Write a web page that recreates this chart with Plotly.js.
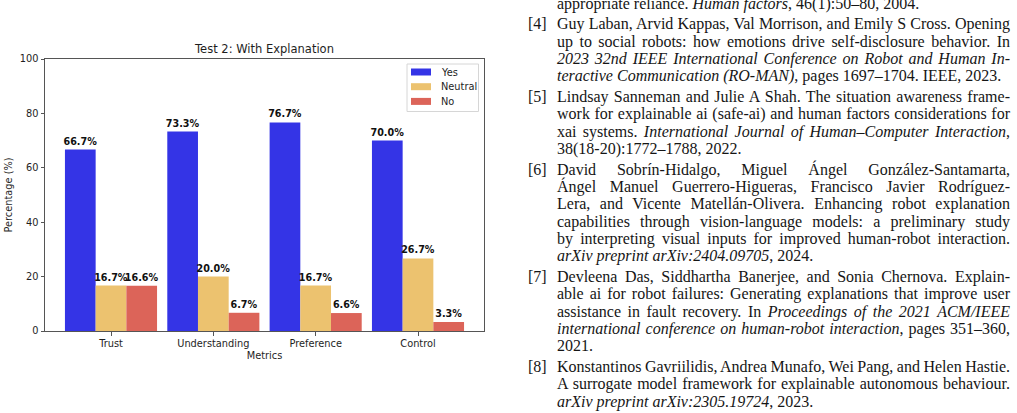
<!DOCTYPE html>
<html><head><meta charset="utf-8">
<script src="https://cdn.plot.ly/plotly-3.0.1.min.js"></script>
<style>
html,body{margin:0;padding:0;background:#fff;overflow:hidden;width:1017px;height:413px}
#chart{position:absolute;left:0;top:0;width:1017px;height:413px}
#refs{position:absolute;left:0;top:0;width:1017px;height:413px;pointer-events:none;font-family:"Liberation Serif","Times New Roman",serif;font-size:16px;color:#151515}
.ln{position:absolute;left:557px;white-space:nowrap;line-height:17px;height:17px}
.lb{position:absolute;left:528px;white-space:nowrap;line-height:17px;height:17px}
</style></head><body>
<div id="chart"></div><div id="refs"></div>
<script>
// ---- chart data ----
const metrics = ['Trust', 'Understanding', 'Preference', 'Control'];
const yesVals = [66.7, 73.3, 76.7, 70.0];
const neutralVals = [16.7, 20.0, 16.7, 26.7];
const noVals = [16.6, 6.7, 6.6, 3.3];
const seriesNames = ['Yes', 'Neutral', 'No'];
const seriesColors = ['#3434e6', '#ecc26f', '#dc6459'];
const yTicks = [0, 20, 40, 60, 80, 100];
const chartTitle = 'Test 2: With Explanation';
const xTitle = 'Metrics';
const yTitle = 'Percentage (%)';

// ---- reference text (page content on the right) ----
const refLines = [
  {lab: '', html: 'appropriate reliance. <i>Human factors</i>, 46(1):50–80, 2004.', j: false, first: false},
  {lab: '[4]', html: 'Guy Laban, Arvid Kappas, Val Morrison, and Emily S Cross. Opening', j: true},
  {lab: '', html: 'up to social robots: how emotions drive self-disclosure behavior. In', j: true},
  {lab: '', html: '<i>2023 32nd IEEE International Conference on Robot and Human In-</i>', j: true},
  {lab: '', html: '<i>teractive Communication (RO-MAN)</i>, pages 1697–1704. IEEE, 2023.', j: false},
  {lab: '[5]', html: 'Lindsay Sanneman and Julie A Shah. The situation awareness frame-', j: true},
  {lab: '', html: 'work for explainable ai (safe-ai) and human factors considerations for', j: true},
  {lab: '', html: 'xai systems. <i>International Journal of Human–Computer Interaction</i>,', j: true},
  {lab: '', html: '38(18-20):1772–1788, 2022.', j: false},
  {lab: '[6]', html: 'David Sobrín-Hidalgo, Miguel Ángel González-Santamarta,', j: true},
  {lab: '', html: 'Ángel Manuel Guerrero-Higueras, Francisco Javier Rodríguez-', j: true},
  {lab: '', html: 'Lera, and Vicente Matellán-Olivera. Enhancing robot explanation', j: true},
  {lab: '', html: 'capabilities through vision-language models: a preliminary study', j: true},
  {lab: '', html: 'by interpreting visual inputs for improved human-robot interaction.', j: true},
  {lab: '', html: '<i>arXiv preprint arXiv:2404.09705</i>, 2024.', j: false},
  {lab: '[7]', html: 'Devleena Das, Siddhartha Banerjee, and Sonia Chernova. Explain-', j: true},
  {lab: '', html: 'able ai for robot failures: Generating explanations that improve user', j: true},
  {lab: '', html: 'assistance in fault recovery. In <i>Proceedings of the 2021 ACM/IEEE</i>', j: true},
  {lab: '', html: '<i>international conference on human-robot interaction</i>, pages 351–360,', j: true},
  {lab: '', html: '2021.', j: false},
  {lab: '[8]', html: 'Konstantinos Gavriilidis, Andrea Munafo, Wei Pang, and Helen Hastie.', j: true},
  {lab: '', html: 'A surrogate model framework for explainable autonomous behaviour.', j: true},
  {lab: '', html: '<i>arXiv preprint arXiv:2305.19724</i>, 2023.', j: false}
];

// ---- layout geometry (pixels) ----
const W = 1017, H = 413;
const PL = 45, PR = 484, PT = 59, PB = 331;
const px2x = p => (p - PL) / (PR - PL);
const px2y = p => (PB - p) / (PB - PT);
const FONT = 'DejaVu Sans';
const TXT = '#1e1e1e';

const valuesBySeries = [yesVals, neutralVals, noVals];
const traces = valuesBySeries.map((vals, i) => ({
  type: 'bar',
  name: seriesNames[i],
  x: metrics,
  y: vals,
  marker: {color: seriesColors[i], line: {width: 0}},
  texttemplate: '%{y:.1f}%',
  textposition: 'outside',
  constraintext: 'none',
  cliponaxis: false,
  textfont: {family: FONT, size: 9.6, color: '#111', weight: 'bold'},
  showlegend: false,
  hoverinfo: 'skip'
}));

// custom matplotlib-style legend
const shapes = [{
  type: 'rect', xref: 'paper', yref: 'paper',
  x0: px2x(407), x1: px2x(478.5), y0: px2y(111.5), y1: px2y(64),
  line: {color: '#d6d6d6', width: 1}, fillcolor: 'rgba(255,255,255,0.85)', layer: 'above'
}];
const annotations = [];
const legY = [72, 86.7, 101.4];
seriesNames.forEach((n, i) => {
  shapes.push({
    type: 'rect', xref: 'paper', yref: 'paper',
    x0: px2x(411), x1: px2x(431), y0: px2y(legY[i] + 3.5), y1: px2y(legY[i] - 3.5),
    line: {width: 0}, fillcolor: seriesColors[i], layer: 'above'
  });
  annotations.push({
    xref: 'paper', yref: 'paper', x: px2x(439), y: px2y(legY[i]),
    xanchor: 'left', yanchor: 'middle', showarrow: false, text: n,
    font: {family: FONT, size: 9.8, color: TXT}
  });
});

const axisCommon = {
  showline: true, mirror: true, linecolor: '#555', linewidth: 1,
  ticks: 'outside', ticklen: 3.5, tickwidth: 1, tickcolor: '#555',
  tickfont: {family: FONT, size: 9.8, color: TXT},
  showgrid: false, zeroline: false, automargin: false, fixedrange: true
};

const layout = {
  width: W, height: H,
  margin: {l: PL, r: W - PR, t: PT, b: H - PB, pad: 0},
  paper_bgcolor: '#fff', plot_bgcolor: '#fff',
  barmode: 'group', bargap: 0.1, bargroupgap: 0,
  title: {text: chartTitle, font: {family: FONT, size: 11.5, color: TXT},
          x: (PL + PR) / 2 / W, xanchor: 'center', y: 1 - 49 / H, yanchor: 'middle'},
  xaxis: Object.assign({}, axisCommon, {
    type: 'category', range: [-0.645, 3.645],
    title: {text: xTitle, font: {family: FONT, size: 9.8, color: TXT}, standoff: 3}
  }),
  yaxis: Object.assign({}, axisCommon, {
    range: [0, 100], tickvals: yTicks, ticktext: yTicks.map(String),
    title: {text: yTitle, font: {family: FONT, size: 9.8, color: TXT}, standoff: 5}
  }),
  shapes: shapes,
  annotations: annotations,
  showlegend: false
};

Plotly.newPlot('chart', traces, layout, {staticPlot: true, displayModeBar: false});

// ---- render reference text ----
const refs = document.getElementById('refs');
const PITCH = 17.3, GAP = 3.5, FIRST = 3, TEXTW = 453;
let yc = FIRST, started = false;
refLines.forEach((r, idx) => {
  if (idx > 0) { yc += PITCH; if (r.lab) yc += GAP; }
  const top = yc - 8.5;
  if (r.lab) {
    const lb = document.createElement('div');
    lb.className = 'lb'; lb.style.top = top + 'px'; lb.textContent = r.lab;
    refs.appendChild(lb);
  }
  const d = document.createElement('div');
  d.className = 'ln'; d.style.top = top + 'px';
  const s = document.createElement('span');
  s.innerHTML = r.html;
  d.appendChild(s);
  refs.appendChild(d);
  if (r.j) {
    const w = s.getBoundingClientRect().width;
    const n = (s.textContent.match(/ /g) || []).length;
    if (n > 0) s.style.wordSpacing = ((TEXTW - w) / n) + 'px';
  }
});
</script>
</body></html>
